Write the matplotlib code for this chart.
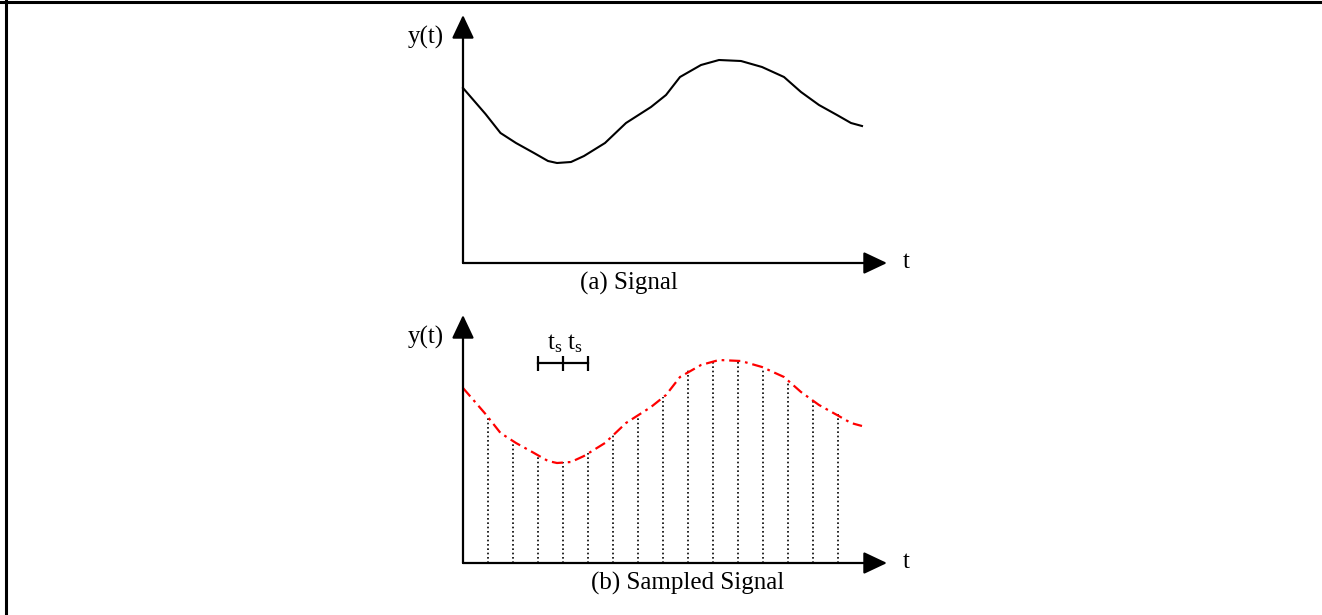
"""Signal vs. sampled signal sketch (two stacked panels with arrow axes)."""

import matplotlib
matplotlib.use('Agg')

import matplotlib.pyplot as plt
from matplotlib.lines import Line2D

plt.rcParams['font.family'] = ['Liberation Serif', 'DejaVu Serif']
plt.rcParams['mathtext.fontset'] = 'custom'
plt.rcParams['mathtext.rm'] = 'Liberation Serif'
plt.rcParams['mathtext.it'] = 'Liberation Serif'

# ── Continuous signal (t in sample periods) ─────────────────────────────────
signal_t = [0.0, 0.9, 1.5, 2.12, 2.84, 3.4, 3.76, 4.32, 4.84, 5.68,
            6.52, 7.52, 8.12, 8.68, 9.52, 10.24, 11.12, 11.96, 12.84, 13.52,
            14.24, 14.96, 15.52, 15.96]
signal_y = [7.0, 5.96, 5.2, 4.8, 4.4, 4.08, 4.0, 4.04, 4.28, 4.8,
            5.6, 6.24, 6.72, 7.44, 7.92, 8.12, 8.08, 7.84, 7.44, 6.84,
            6.32, 5.92, 5.6, 5.48]

# ── Samples (dotted stems) ──────────────────────────────────────────────────
sample_t = [1, 2, 3, 4, 5, 6, 7, 8, 9, 10, 11, 12, 13, 14, 15]
sample_y = [5.84, 4.8, 4.24, 4.04, 4.4, 5.2, 5.8, 6.64, 7.72, 8.04, 8.08,
            7.72, 7.2, 6.52, 6.0]

# sampling-period marker: bar from t=3 to t=5 with a tick at every sample
ts_ticks = [3, 4, 5]
ts_level = 8.0

W, H = 1322, 615
X0 = 463             # pixel column of the y axis
AX_W, AX_H = 450, 250
X_TIP, Y_TIP = 16.96, 9.92
FS = 18


def draw_axes(ax, caption, cap_x):
    ax.set_xlim(0, AX_W / 25)
    ax.set_ylim(0, AX_H / 25)
    ax.axis('off')
    arrow = dict(arrowstyle='-|>,head_length=0.72,head_width=0.34',
                 mutation_scale=20, color='black', lw=1.6,
                 shrinkA=0, shrinkB=0)
    ax.annotate('', xy=(X_TIP, 0), xytext=(0, 0), arrowprops=arrow,
                annotation_clip=False)
    ax.annotate('', xy=(0, Y_TIP), xytext=(0, 0), arrowprops=arrow,
                annotation_clip=False)
    ax.text(-0.76, 9.04, 'y(t)', ha='right', va='center', fontsize=FS,
            clip_on=False)
    ax.text(17.6, 0.02, 't', ha='left', va='center', fontsize=FS,
            clip_on=False)
    ax.text(cap_x, -0.8, caption, ha='center', va='center', fontsize=FS,
            clip_on=False)


def main() -> None:
    fig = plt.figure(figsize=(W / 100, H / 100), dpi=100)

    ax_a = fig.add_axes([X0 / W, (H - 263) / H, AX_W / W, AX_H / H])
    ax_b = fig.add_axes([X0 / W, (H - 563) / H, AX_W / W, AX_H / H])

    # ── (a) continuous signal ───────────────────────────────────────────────
    draw_axes(ax_a, '(a) Signal', 6.64)
    ax_a.plot(signal_t, signal_y, color='black', lw=1.5,
              solid_joinstyle='round', clip_on=False)

    # ── (b) sampled signal ──────────────────────────────────────────────────
    draw_axes(ax_b, '(b) Sampled Signal', 9.0)
    ax_b.vlines(sample_t, 0, sample_y, colors='black', lw=1.2,
                linestyles=(0, (1, 1.6)))
    ax_b.plot(signal_t, signal_y, color='#ff0000', lw=1.6,
              linestyle=(0, (5, 2.2, 1.2, 2.2)), clip_on=False)

    ax_b.plot([ts_ticks[0], ts_ticks[-1]], [ts_level, ts_level],
              color='black', lw=1.6)
    ax_b.vlines(ts_ticks, ts_level - 0.3, ts_level + 0.3, colors='black',
                lw=1.6)
    for x in (3.68, 4.48):
        ax_b.text(x, 8.76, r'$\mathrm{t}_\mathrm{s}$', ha='center',
                  va='center', fontsize=FS)

    # frame fragments: top edge and left edge of the original box
    fig.add_artist(Line2D([0, 1], [1 - 1.5 / H, 1 - 1.5 / H],
                          transform=fig.transFigure, color='black', lw=2.2))
    fig.add_artist(Line2D([5.5 / W, 5.5 / W], [0, 1],
                          transform=fig.transFigure, color='black', lw=2.2))

    fig.savefig('out.png', dpi=100, facecolor='white')
    plt.close(fig)


if __name__ == "__main__":
    main()
